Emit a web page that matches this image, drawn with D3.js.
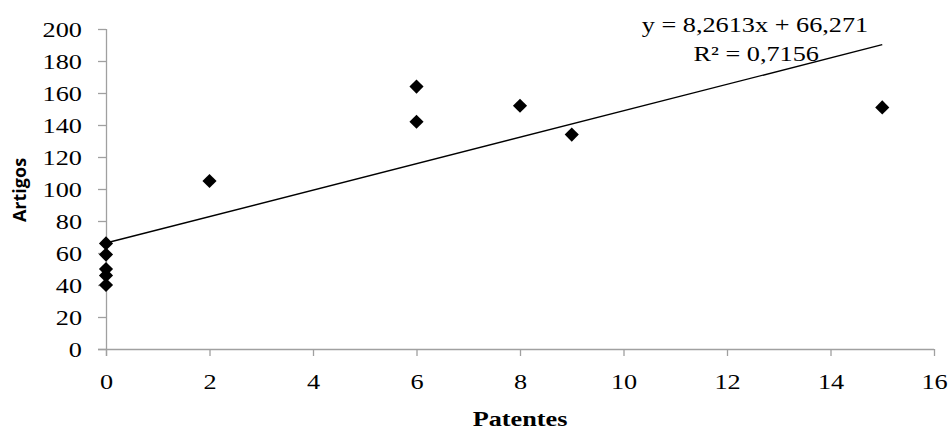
<!DOCTYPE html>
<html>
<head>
<meta charset="utf-8">
<script src="https://cdn.jsdelivr.net/npm/d3@7"></script>
<style>
  body { margin: 0; background: #fff; }
  .serif { font-family: "Liberation Serif", "Times New Roman", Times, serif; }
</style>
</head>
<body>
<div id="chart"></div>
<script>
// patentes (x) vs artigos (y)
const patentes = [0, 0, 0, 0, 0, 2, 6, 6, 8, 9, 15];
const artigos = [66, 59, 50, 46, 40, 105, 164, 142, 152, 134, 151];
const xTicks = [0, 2, 4, 6, 8, 10, 12, 14, 16];
const yTicks = [0, 20, 40, 60, 80, 100, 120, 140, 160, 180, 200];
const trend = { slope: 8.2613, intercept: 66.271, r2: 0.7156 };
const trendRange = [0, 15];

const width = 948;
const height = 429;
const margin = { top: 29, right: 14, bottom: 80, left: 106 };
const stretch = 1.25; // the original text looks widened horizontally

const svg = d3.select('#chart').append('svg')
  .attr('width', width)
  .attr('height', height);

const x = d3.scaleLinear().domain([0, 16]).range([margin.left, width - margin.right]);
const y = d3.scaleLinear().domain([0, 200]).range([height - margin.bottom, margin.top]);

// axes
const xAxis = svg.append('g')
  .attr('transform', `translate(0,${y(0)})`)
  .call(d3.axisBottom(x).tickValues(xTicks).tickSize(7).tickPadding(18).tickFormat(d3.format('d')));

const yAxis = svg.append('g')
  .attr('transform', `translate(${x(0)},0)`)
  .call(d3.axisLeft(y).tickValues(yTicks).tickSize(8).tickPadding(9).tickFormat(d3.format('d')));

[xAxis, yAxis].forEach(a => {
  a.attr('font-family', null).attr('font-size', null);
  a.selectAll('path, line').attr('stroke', '#a0a0a0').attr('stroke-width', 1.3);
  a.select('.domain').attr('d', null);
  a.selectAll('.tick text').attr('class', 'serif').style('font-size', '21px').attr('fill', '#000');
});
xAxis.selectAll('.tick text').attr('transform', `scale(${stretch},1)`);
yAxis.selectAll('.tick text')
  .attr('x', 0)
  .attr('dy', '0.36em')
  .attr('transform', `translate(-24,0) scale(${stretch},1)`);

xAxis.append('line').attr('x1', x(0) - 8).attr('x2', x(16)).attr('y1', 0.5).attr('y2', 0.5)
  .attr('stroke', '#a0a0a0').attr('stroke-width', 1.3);
yAxis.append('line').attr('x1', 0.5).attr('x2', 0.5).attr('y1', y(200)).attr('y2', y(0) + 7)
  .attr('stroke', '#a0a0a0').attr('stroke-width', 1.3);

// trend line
svg.append('line')
  .attr('x1', x(trendRange[0]))
  .attr('y1', y(trend.intercept + trend.slope * trendRange[0]))
  .attr('x2', x(trendRange[1]))
  .attr('y2', y(trend.intercept + trend.slope * trendRange[1]))
  .attr('stroke', '#000')
  .attr('stroke-width', 1.4);

// diamonds
const diamond = d3.symbol().type(d3.symbolSquare).size(100);
svg.selectAll('.pt')
  .data(d3.range(patentes.length))
  .join('path')
  .attr('class', 'pt')
  .attr('d', diamond)
  .attr('transform', i => `translate(${x(patentes[i])},${y(artigos[i])}) rotate(45)`)
  .attr('fill', '#000');

// equation
const eq = svg.append('text')
  .attr('class', 'serif')
  .attr('text-anchor', 'middle')
  .attr('transform', `translate(755,0) scale(${stretch},1)`)
  .style('font-size', '21px');
eq.append('tspan').attr('x', 0).attr('y', 32).text('y = 8,2613x + 66,271');
eq.append('tspan').attr('x', 1).attr('y', 61).text('R² = 0,7156');

// axis titles
svg.append('text')
  .attr('class', 'serif')
  .attr('transform', `translate(${(x(0) + x(16)) / 2},426) scale(${stretch},1)`)
  .attr('text-anchor', 'middle')
  .style('font-weight', 'bold')
  .style('font-size', '21px')
  .text('Patentes');

svg.append('text')
  .attr('transform', `translate(26,${(y(0) + y(200)) / 2 + 1}) rotate(-90)`)
  .attr('text-anchor', 'middle')
  .style('font-family', '"Open Sans", sans-serif')
  .style('font-weight', 'bold')
  .style('font-size', '18px')
  .text('Artigos');
</script>
</body>
</html>
